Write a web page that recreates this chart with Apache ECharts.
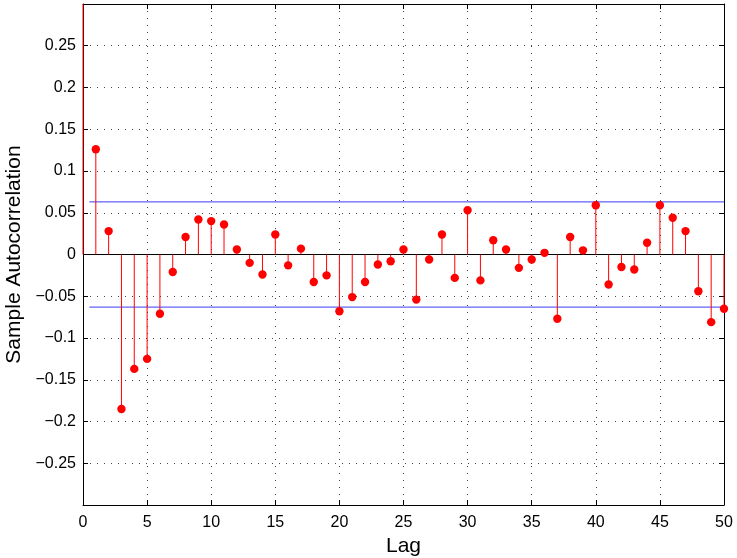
<!DOCTYPE html>
<html><head><meta charset="utf-8">
<script src="https://cdn.jsdelivr.net/npm/echarts@6/dist/echarts.min.js"></script>
<style>html,body{margin:0;padding:0;background:#fff}#c{width:737px;height:558px}</style>
</head><body><div id="c"></div>
<script>
// Lags 0..50
const lags = [0,1,2,3,4,5,6,7,8,9,10,11,12,13,14,15,16,17,18,19,20,21,22,23,24,25,26,27,28,29,30,31,32,33,34,35,36,37,38,39,40,41,42,43,44,45,46,47,48,49,50];
// Sample autocorrelation values (lag 0 = 1, clipped by the axes)
const acf = [1, 0.126, 0.028, -0.185, -0.137, -0.125, -0.071, -0.021, 0.021, 0.042, 0.040,
  0.036, 0.006, -0.010, -0.024, 0.024, -0.013, 0.007, -0.033, -0.025, -0.068,
  -0.051, -0.033, -0.012, -0.008, 0.006, -0.054, -0.006, 0.024, -0.028, 0.053,
  -0.031, 0.017, 0.006, -0.016, -0.006, 0.002, -0.077, 0.021, 0.005, 0.059,
  -0.036, -0.015, -0.018, 0.014, 0.059, 0.044, 0.028, -0.044, -0.081, -0.065];
// Confidence bounds, drawn from lag 0.5 to the last lag
const boundLags = [0.5, 50];
const upperBound = 0.063;
const lowerBound = -0.063;
const xTicks = [0,5,10,15,20,25,30,35,40,45,50];
const yTickLabels = ['-0.25','-0.2','-0.15','-0.1','-0.05','0','0.05','0.1','0.15','0.2','0.25'];

const FONT = 'Liberation Sans, Arial, Helvetica, sans-serif';
const chart = echarts.init(document.getElementById('c'), null, {renderer:'canvas'});

function fmtY(v){
  const r = Math.round(v*100)/100;
  const s = String(Math.abs(r));
  if (!yTickLabels.includes(String(r))) return '';
  return (r < 0 ? '\u2212' : '') + s;
}

const axisCommon = {
  axisLine:{onZero:false, lineStyle:{color:'#000', width:1}},
  axisTick:{inside:true, length:5, lineStyle:{color:'#000'}},
};

const option = {
  animation:false,
  backgroundColor:'#fff',
  grid:{left:83, right:13, top:4, bottom:53, containLabel:false, outerBoundsMode:'none'},
  xAxis:[
    Object.assign({type:'value', min:xTicks[0], max:xTicks[xTicks.length-1], interval:5, position:'bottom',
      axisLabel:{fontSize:16, color:'#000', margin:10, fontFamily:FONT},
      splitLine:{show:true, lineStyle:{type:[1,6], color:'#444', width:1}},
      name:'Lag', nameLocation:'middle', nameGap:27,
      nameTextStyle:{fontSize:21, color:'#000', fontFamily:FONT}}, axisCommon),
    Object.assign({type:'value', min:xTicks[0], max:xTicks[xTicks.length-1], interval:5, position:'top',
      axisLabel:{show:false}, splitLine:{show:false}}, axisCommon)
  ],
  yAxis:[
    Object.assign({type:'value', min:-0.3, max:0.3, interval:0.05, position:'left',
      axisLabel:{fontSize:16, color:'#000', margin:7, fontFamily:FONT, formatter:fmtY},
      splitLine:{show:true, lineStyle:{type:[1,6], color:'#444', width:1}},
      name:'Sample Autocorrelation', nameLocation:'middle', nameGap:56, nameRotate:90,
      nameTextStyle:{fontSize:21, color:'#000', fontFamily:FONT}}, axisCommon),
    Object.assign({type:'value', min:-0.3, max:0.3, interval:0.05, position:'right',
      axisLabel:{show:false}, splitLine:{show:false}}, axisCommon)
  ],
  series:[
    {type:'line', xAxisIndex:0, yAxisIndex:0, data:[[lags[0],0],[lags[lags.length-1],0]],
      showSymbol:false, symbol:'none', lineStyle:{color:'#000', width:1}, z:2, silent:true},
    {type:'line', xAxisIndex:0, yAxisIndex:0, data:boundLags.map(l=>[l, upperBound]),
      showSymbol:false, symbol:'none', lineStyle:{color:'#3b3bf5', width:1}, z:2, silent:true},
    {type:'line', xAxisIndex:0, yAxisIndex:0, data:boundLags.map(l=>[l, lowerBound]),
      showSymbol:false, symbol:'none', lineStyle:{color:'#3b3bf5', width:1}, z:2, silent:true},
    {type:'custom', xAxisIndex:0, yAxisIndex:0, clip:false, z:5,
      data: lags.map((l,i)=>[l, acf[i]]),
      renderItem:function(params, api){
        const cs = params.coordSys;
        const x = api.value(0), y = api.value(1);
        const p0 = api.coord([x, 0]);
        const p1 = api.coord([x, y]);
        const top = cs.y, bottom = cs.y + cs.height;
        const inside = p1[1] >= top && p1[1] <= bottom;
        const yEnd = Math.min(Math.max(p1[1], top), bottom);
        const children = [
          {type:'line', shape:{x1:p0[0], y1:p0[1], x2:p1[0], y2:yEnd}, style:{stroke:'#ff0000', lineWidth:1}}
        ];
        if (inside) children.push({type:'circle', shape:{cx:p1[0], cy:p1[1], r:4.2}, style:{fill:'#ff0000', stroke:null}});
        return {type:'group', children:children};
      }}
  ]
};
chart.setOption(option);
</script>
</body></html>
